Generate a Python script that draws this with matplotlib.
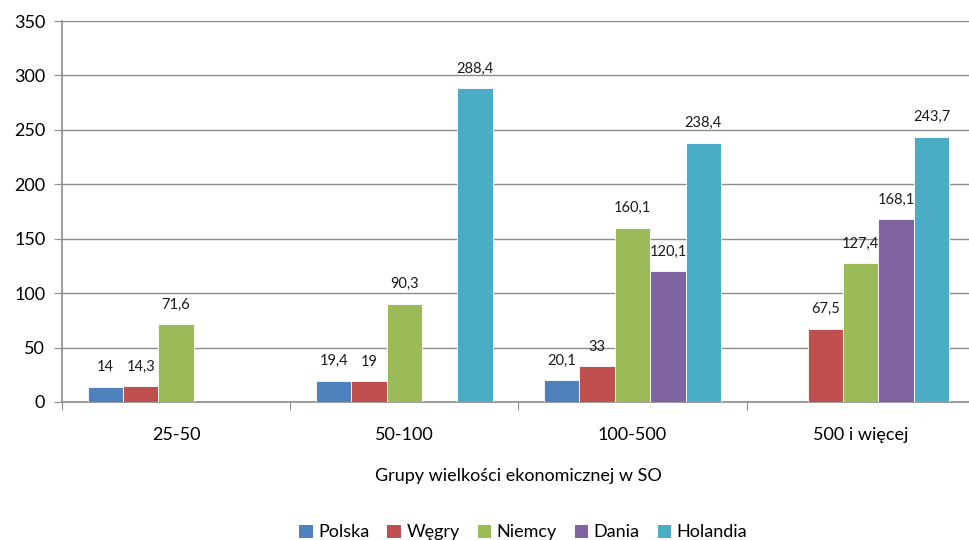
import numpy as np
import matplotlib
matplotlib.use('Agg')
import matplotlib.pyplot as plt
from matplotlib.patches import Patch

# Dane
grupy = ['25-50', '50-100', '100-500', '500 i więcej']
kraje = ['Polska', 'Węgry', 'Niemcy', 'Dania', 'Holandia']
polska = [14, 19.4, 20.1, np.nan]
wegry = [14.3, 19, 33, 67.5]
niemcy = [71.6, 90.3, 160.1, 127.4]
dania = [np.nan, np.nan, 120.1, 168.1]
holandia = [np.nan, 288.4, 238.4, 243.7]
kolory = ['#4F81BD', '#C0504D', '#9BBB59', '#8064A2', '#4BACC6']

serie = [polska, wegry, niemcy, dania, holandia]

plt.rcParams['font.family'] = ['Lato', 'DejaVu Sans']

fig = plt.figure(figsize=(9.69, 5.4), dpi=100)
ax = fig.add_axes([0.064, 0.2556, 0.942, 0.7054])

x = np.arange(len(grupy))
w = 0.155
for i, (nazwa, vals) in enumerate(zip(kraje, serie)):
    pos = x + (i - 2) * w
    ax.bar(pos, vals, width=w, color=kolory[i], edgecolor='white', linewidth=0.6, zorder=3)
    for xp, v in zip(pos, vals):
        if np.isnan(v):
            continue
        ax.annotate(f'{v:g}'.replace('.', ','), (xp, v), xytext=(0, 9), textcoords='offset points',
                    ha='center', va='bottom', fontsize=10.5, color='#1a1a1a')

ax.set_xlim(-0.5, 3.5)
ax.set_ylim(0, 350)
ax.set_yticks(np.arange(0, 351, 50))
ax.yaxis.grid(True, color='#8c8c8c', linewidth=1.0, zorder=0)
ax.set_axisbelow(True)

# ticks na granicach kategorii
ax.set_xticks(np.arange(-0.5, 3.6, 1))
ax.set_xticklabels([])
ax.set_xticks(x, minor=True)
ax.set_xticklabels(grupy, minor=True, fontsize=13)
ax.tick_params(axis='x', which='minor', length=0, pad=18)
ax.tick_params(axis='x', which='major', length=6, color='#8c8c8c')
ax.tick_params(axis='y', length=6, color='#8c8c8c', labelsize=13, pad=6)

for s in ['top', 'right']:
    ax.spines[s].set_visible(False)
ax.spines['left'].set_color('#8c8c8c')
ax.spines['bottom'].set_color('#8c8c8c')
ax.spines['left'].set_linewidth(1.2)
ax.spines['bottom'].set_linewidth(1.2)

ax.set_xlabel('Grupy wielkości ekonomicznej w SO', fontsize=13, labelpad=18)

uchwyty = [Patch(facecolor=c, label=k) for c, k in zip(kolory, kraje)]
fig.legend(handles=uchwyty, loc='center', bbox_to_anchor=(0.54, 0.014), ncol=5, frameon=False,
           fontsize=13, handlelength=0.75, handleheight=0.75, handletextpad=0.3, columnspacing=1.0)

fig.savefig('out.png', dpi=100)
